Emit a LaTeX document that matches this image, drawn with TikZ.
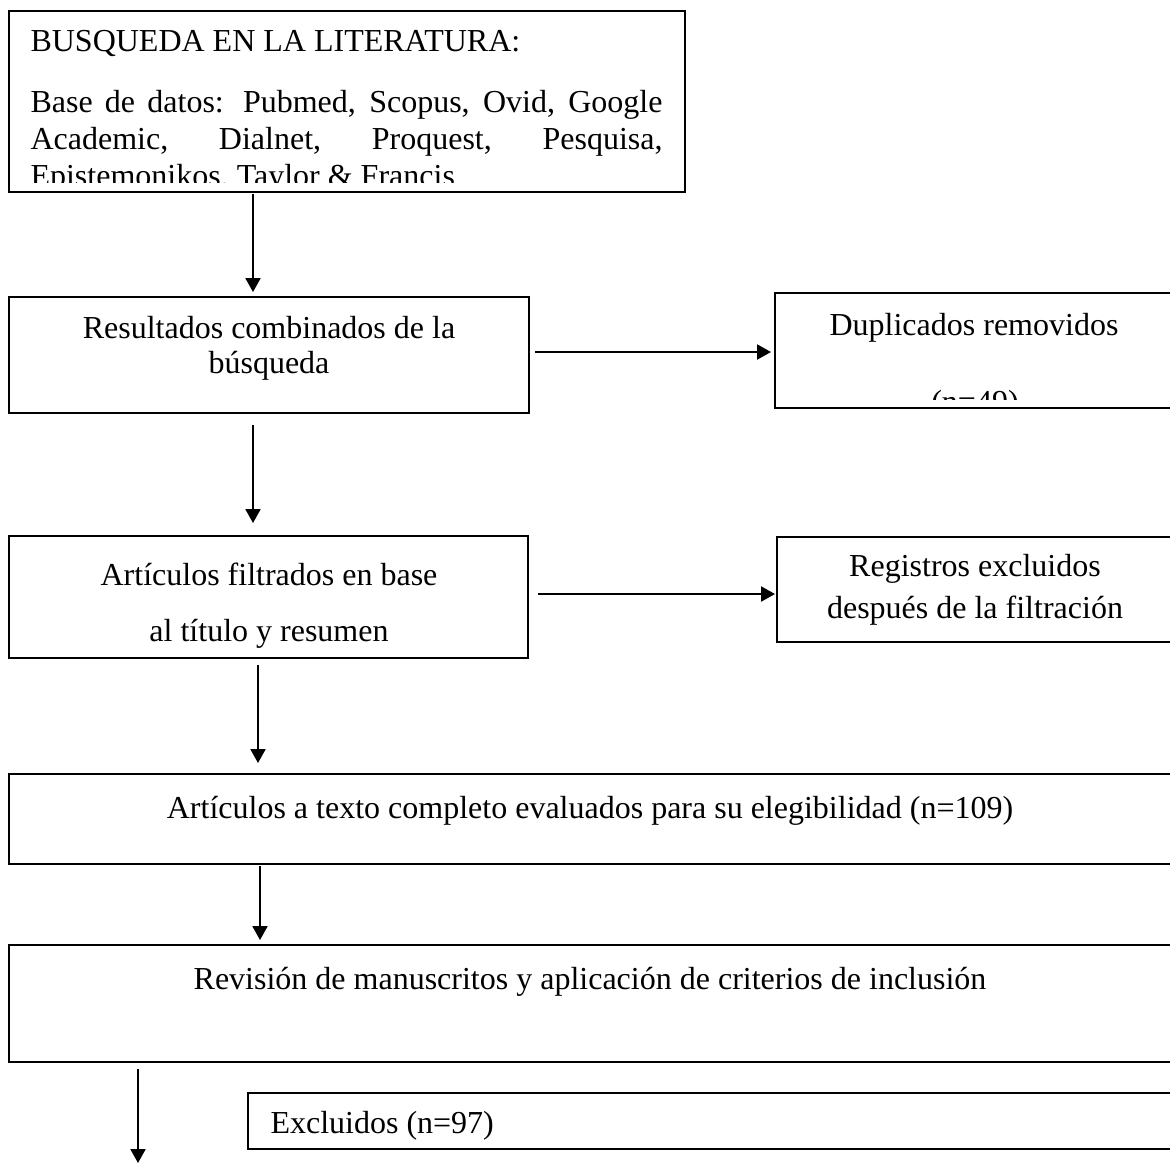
\documentclass[tikz,border=0pt]{standalone}
\usepackage{fontspec}
\setmainfont{Liberation Serif}
\usetikzlibrary{arrows.meta}
\newlength\pxu
\setlength\pxu{0.375pt}
\begin{document}
\begin{tikzpicture}[x=0.375pt,y=-0.375pt,
  box/.style={draw, line width=0.75pt, inner sep=0pt, outer sep=0pt, anchor=north west},
  arr/.style={line width=0.75pt, -{Triangle[length=5.2pt,width=5.6pt]}},
  txt/.style={inner sep=0pt, anchor=base, font=\fontsize{12}{13.8}\selectfont},
  txtl/.style={txt, anchor=base west}]
\useasboundingbox (0,0) rectangle (1170,1163);
\clip (0,0) rectangle (1170,1163);
% boxes
\node[box, minimum width=676\pxu, minimum height=181\pxu] (b1) at (9,11) {};
\node[box, minimum width=520\pxu, minimum height=116\pxu] (b2) at (9,297) {};
\node[box, minimum width=400\pxu, minimum height=115\pxu] (dup) at (775,293) {};
\node[box, minimum width=519\pxu, minimum height=122\pxu] (b3) at (9,536) {};
\node[box, minimum width=398\pxu, minimum height=105\pxu] (reg) at (777,537) {};
\node[box, minimum width=1166\pxu, minimum height=90\pxu] (b4) at (9,774) {};
\node[box, minimum width=1166\pxu, minimum height=117\pxu] (b5) at (9,945) {};
\node[box, minimum width=927\pxu, minimum height=56\pxu] (exc) at (248,1093) {};
% texts
\begin{scope}
\clip (9,11) rectangle (685,182);
\node[txtl] (t1a) at (30,51) {BUSQUEDA EN LA LITERATURA:};
\node[txtl] (t1b) at (30,112) {\makebox[237pt][s]{Base de datos: Pubmed, Scopus, Ovid, Google}};
\node[txtl] (t1c) at (30,149) {\makebox[237pt][s]{Academic, Dialnet, Proquest, Pesquisa,}};
\node[txtl] (t1d) at (30,186) {Epistemonikos, Taylor \& Francis};
\end{scope}
\node[txt] (t2a) at (269,338) {Resultados combinados de la};
\node[txt] (t2b) at (269,373) {búsqueda};
\node[txt] (tda) at (974,335) {Duplicados removidos};
\begin{scope}
\clip (775,293) rectangle (1170,399);
\node[txt] (tdb) at (975,412) {(n=49)};
\end{scope}
\node[txt] (t3a) at (269,585) {Artículos filtrados en base};
\node[txt] (t3b) at (269,641) {al título y resumen};
\node[txt] (tra) at (975,576) {Registros excluidos};
\node[txt] (trb) at (975,618) {después de la filtración};
\node[txt] (t4) at (590,818) {Artículos a texto completo evaluados para su elegibilidad (n=109)};
\node[txt] (t5) at (590,989) {Revisión de manuscritos y aplicación de criterios de inclusión};
\node[txtl] (te) at (270,1133) {Excluidos (n=97)};
% connector helpers
\coordinate (x1) at (253,0);
\coordinate (x2) at (258,0);
\coordinate (x3) at (260,0);
\coordinate (x4) at (138,0);
\coordinate (y1) at (0,352);
\coordinate (y2) at (0,594);
\coordinate (endp) at (138,1163);
% connectors
\draw[arr, shorten <=2\pxu, shorten >=5\pxu] (b1.south -| x1) -- (b2.north -| x1);
\draw[arr, shorten <=6\pxu, shorten >=4\pxu] (b2.east |- y1) -- (dup.west |- y1);
\draw[arr, shorten <=12\pxu, shorten >=13\pxu] (b2.south -| x1) -- (b3.north -| x1);
\draw[arr, shorten <=10\pxu, shorten >=2\pxu] (b3.east |- y2) -- (reg.west |- y2);
\draw[arr, shorten <=7\pxu, shorten >=11\pxu] (b3.south -| x2) -- (b4.north -| x2);
\draw[arr, shorten <=2\pxu, shorten >=5\pxu] (b4.south -| x3) -- (b5.north -| x3);
\draw[arr, shorten <=7\pxu] (b5.south -| x4) -- (endp);
\end{tikzpicture}
\end{document}
